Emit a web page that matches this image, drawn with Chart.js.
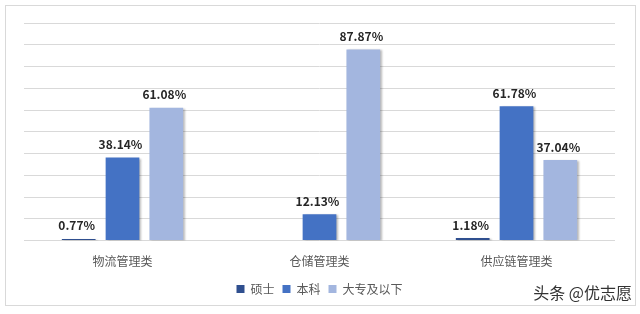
<!DOCTYPE html>
<html>
<head>
<meta charset="utf-8">
<script src="https://cdn.jsdelivr.net/npm/chart.js@4"></script>
<style>
  html, body { margin: 0; padding: 0; background: #fff; }
  body { width: 640px; height: 314px; position: relative; overflow: hidden; }
  #frame { position: absolute; left: 5px; top: 5px; width: 629px; height: 299px; border: 1px solid #d9d9d9; }
  #wrap { position: absolute; left: 0; top: 0; width: 629px; height: 299px; }
  #credit { position: absolute; right: 8px; top: 280px; font: 16px "Noto Sans CJK SC", sans-serif; color: #333; }
</style>
</head>
<body>
<div id="frame"><div id="wrap"><canvas id="chart"></canvas></div></div>
<div id="credit">头条 @优志愿</div>
<script>
const categories = ["物流管理类", "仓储管理类", "供应链管理类"];
const seriesNames = ["硕士", "本科", "大专及以下"];
const master = [0.77, 0, 1.18];
const bachelor = [38.14, 12.13, 61.78];
const college = [61.08, 87.87, 37.04];
const colors = ["#2f4f8f", "#4472c4", "#a3b6df"];

const FONT = '"Noto Sans CJK SC", sans-serif';

// soft shadow on the right side of bars
const shadowPlugin = {
  id: "barShadow",
  beforeDatasetsDraw(chart) {
    const { ctx } = chart;
    ctx.save();
    ctx.shadowColor = "rgba(0,0,0,0.28)";
    ctx.shadowOffsetX = 2;
    ctx.shadowOffsetY = 1;
    ctx.shadowBlur = 2;
  },
  afterDatasetsDraw(chart) {
    chart.ctx.restore();
  }
};

// value labels above bars
const labelPlugin = {
  id: "valueLabels",
  afterDatasetsDraw(chart) {
    const { ctx } = chart;
    ctx.save();
    ctx.font = "bold 12px " + FONT;
    ctx.fillStyle = "#262626";
    ctx.textAlign = "center";
    ctx.textBaseline = "bottom";
    chart.data.datasets.forEach((ds, i) => {
      const meta = chart.getDatasetMeta(i);
      meta.data.forEach((bar, k) => {
        const v = ds.data[k];
        if (!v) return;
        ctx.fillText(v.toFixed(2) + "%", bar.x - 2, bar.y - 7);
      });
    });
    ctx.restore();
  }
};

new Chart(document.getElementById("chart"), {
  type: "bar",
  data: {
    labels: categories,
    datasets: [
      { label: seriesNames[0], data: master, backgroundColor: colors[0] },
      { label: seriesNames[1], data: bachelor, backgroundColor: colors[1] },
      { label: seriesNames[2], data: college, backgroundColor: colors[2] }
    ]
  },
  options: {
    responsive: true,
    maintainAspectRatio: false,
    animation: false,
    layout: { padding: { left: 18, right: 20, top: 17, bottom: 0 } },
    datasets: { bar: { categoryPercentage: 0.667, barPercentage: 0.77 } },
    plugins: {
      legend: {
        position: "bottom",
        labels: { boxWidth: 8, boxHeight: 8, padding: 8, color: "#595959", font: { family: FONT, size: 12 } }
      },
      tooltip: { enabled: false }
    },
    scales: {
      x: {
        grid: { display: false },
        border: { display: false },
        ticks: { color: "#595959", font: { family: FONT, size: 12 }, padding: 6 }
      },
      y: {
        min: 0, max: 100,
        ticks: { display: false, stepSize: 10 },
        grid: { color: "#d9d9d9", drawTicks: false },
        border: { display: false }
      }
    }
  },
  plugins: [shadowPlugin, labelPlugin]
});
</script>
</body>
</html>
